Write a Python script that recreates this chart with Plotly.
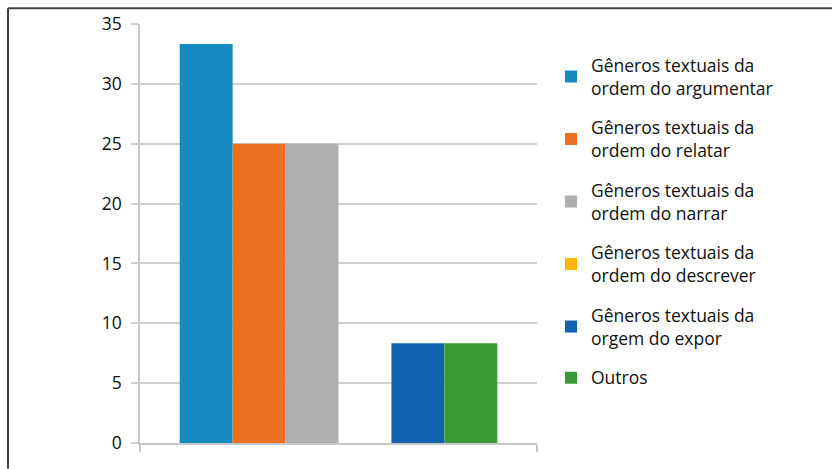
import plotly.graph_objects as go

categories = [" "]
series_names = [
    "Gêneros textuais da<br>ordem do argumentar",
    "Gêneros textuais da<br>ordem do relatar",
    "Gêneros textuais da<br>ordem do narrar",
    "Gêneros textuais da<br>ordem do descrever",
    "Gêneros textuais da<br>orgem do expor",
    "Outros",
]
series_values = [33.33, 25.0, 25.0, 0.0, 8.33, 8.33]
series_colors = ["#168AC0", "#EC7021", "#AFAFAF", "#FDB300", "#1163B0", "#3A9B36"]
y_ticks = [0, 5, 10, 15, 20, 25, 30, 35]

W, H = 832, 469
L, R, T, B = 140, 537, 23.7, 443.5

fig = go.Figure()
for i, (name, val, col) in enumerate(zip(series_names, series_values, series_colors)):
    fig.add_trace(go.Bar(x=categories, y=[val], name=name, marker_color=col,
                         marker_line_width=0, legendgroup=str(i)))

def px_x(p):
    return (p - L) / (R - L)

def px_y(p):
    return (B - p) / (B - T)

fig.update_layout(
    width=W, height=H,
    margin=dict(l=L, r=W - R, t=T, b=H - B, pad=0),
    paper_bgcolor="white", plot_bgcolor="white",
    barmode="group", bargap=0.2, bargroupgap=0,
    font=dict(family="Open Sans", size=17.5, color="#111111"),
    showlegend=True,
    legend=dict(x=px_x(551), xanchor="left", y=px_y(47), yanchor="top",
                traceorder="grouped", tracegroupgap=14,
                font=dict(family="Open Sans", size=17.5, color="#111111"),
                bgcolor="rgba(0,0,0,0)"),
    xaxis=dict(type="category", showticklabels=False, ticks="outside", tickson="boundaries",
               ticklen=7, tickcolor="#c8c8c8", tickwidth=1.5, showline=True, linecolor="#c8c8c8",
               linewidth=1.5, showgrid=False, zeroline=False, fixedrange=True),
    yaxis=dict(range=[0, 35], tickvals=y_ticks, ticks="outside", ticklen=7, tickcolor="#d0d0d0",
               tickwidth=1.5, showline=True, linecolor="#c8c8c8", linewidth=1.5,
               showgrid=True, gridcolor="#d0d0d0", gridwidth=1.5, zeroline=False,
               ticklabelstandoff=6,
               tickfont=dict(family="Open Sans", size=17.5, color="#111111")),
    shapes=[
        dict(type="line", xref="paper", yref="paper", x0=px_x(8), x1=px_x(832),
             y0=px_y(8), y1=px_y(8), line=dict(color="#404040", width=2)),
        dict(type="line", xref="paper", yref="paper", x0=px_x(8), x1=px_x(8),
             y0=px_y(8), y1=px_y(469), line=dict(color="#404040", width=2)),
    ],
)

fig.write_html("out.html")
